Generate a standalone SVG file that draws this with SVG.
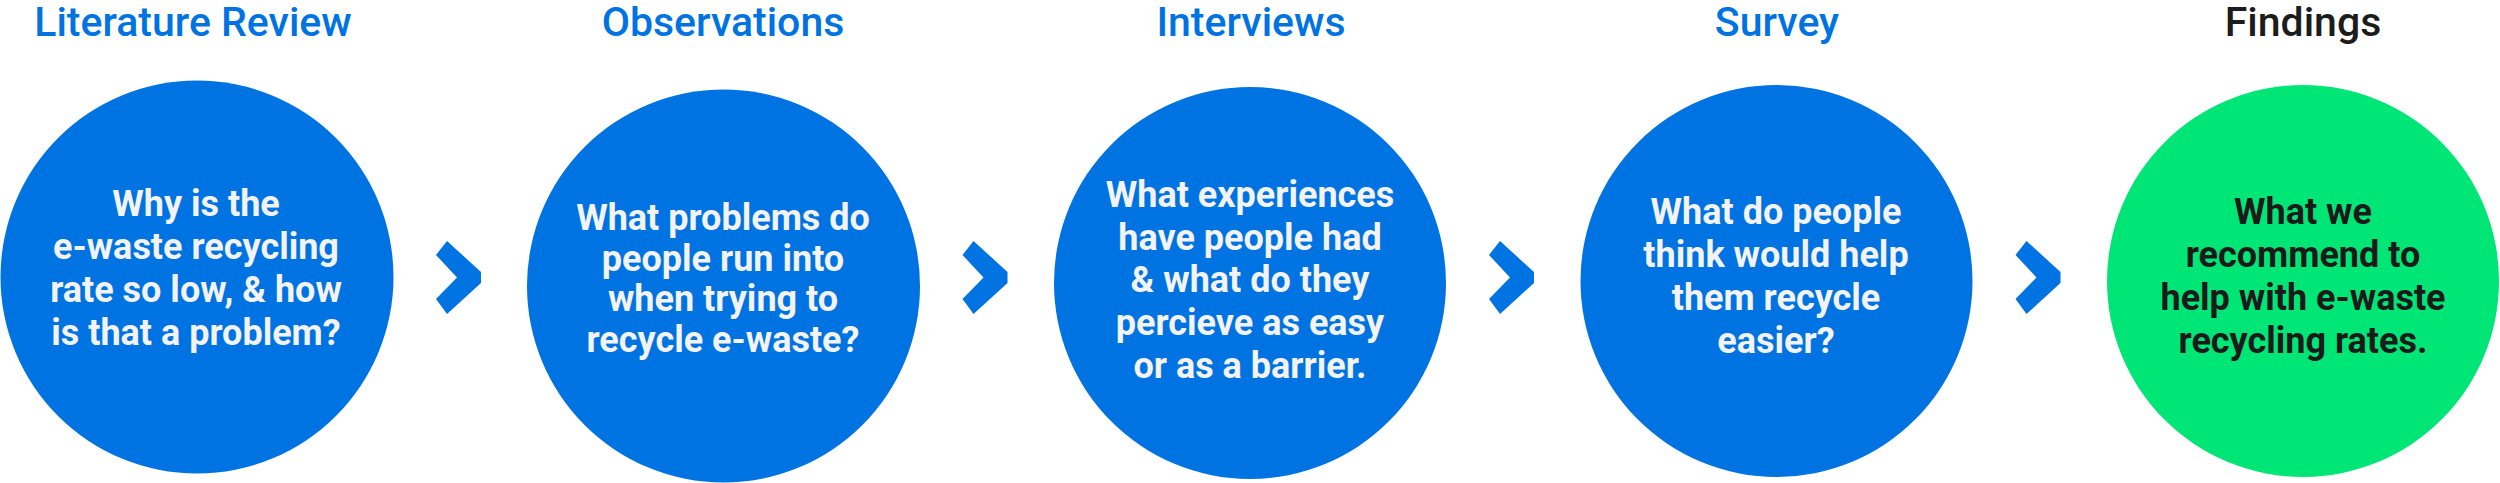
<svg xmlns="http://www.w3.org/2000/svg" xmlns:xlink="http://www.w3.org/1999/xlink" width="2500" height="483" viewBox="0 0 2500 483">
<style>
.title{font-family:Roboto,"Liberation Sans",sans-serif;font-weight:500;font-size:41px;fill:#0073E2;text-anchor:middle}
.title.dark{fill:#1c1c1c}
.q{font-family:Roboto,"Liberation Sans",sans-serif;font-weight:700;font-size:36px;fill:#F3F3F3;text-anchor:middle}
.q.dark{fill:#1a1a1a}
.blue{fill:#0073E2}
.green{fill:#00E676}
.chev{fill:#0073E2}
</style>
<defs>
<polygon id="chevron" points="436,255 447,241 481,272 481,283 447,314 436,299 457,277.5"/>
</defs>
<rect width="2500" height="483" fill="#ffffff"/>
<g id="node-literature">
<text class="title" x="193" y="36">Literature Review</text>
<circle class="blue" cx="197" cy="277" r="196.5"/>
<text class="q" x="196" y="216">Why is the</text>
<text class="q" x="196" y="259">e-waste recycling</text>
<text class="q" x="196" y="302">rate so low, &amp; how</text>
<text class="q" x="196" y="345">is that a problem?</text>
</g>
<g id="node-observations">
<text class="title" x="723" y="36">Observations</text>
<circle class="blue" cx="723.5" cy="286" r="196.5"/>
<text class="q" x="723" y="230">What problems do</text>
<text class="q" x="723" y="271">people run into</text>
<text class="q" x="723" y="311">when trying to</text>
<text class="q" x="723" y="352">recycle e-waste?</text>
</g>
<g id="node-interviews">
<text class="title" x="1251" y="36">Interviews</text>
<circle class="blue" cx="1250" cy="283" r="196"/>
<text class="q" x="1250" y="207">What experiences</text>
<text class="q" x="1250" y="250">have people had</text>
<text class="q" x="1250" y="292">&amp; what do they</text>
<text class="q" x="1250" y="335">percieve as easy</text>
<text class="q" x="1250" y="378">or as a barrier.</text>
</g>
<g id="node-survey">
<text class="title" x="1777" y="36">Survey</text>
<circle class="blue" cx="1776.5" cy="281" r="196"/>
<text class="q" x="1776" y="224">What do people</text>
<text class="q" x="1776" y="267">think would help</text>
<text class="q" x="1776" y="310">them recycle</text>
<text class="q" x="1776" y="353">easier?</text>
</g>
<g id="node-findings">
<text class="title dark" x="2303" y="36">Findings</text>
<circle class="green" cx="2303" cy="281" r="196"/>
<text class="q dark" x="2303" y="224">What we</text>
<text class="q dark" x="2303" y="267">recommend to</text>
<text class="q dark" x="2303" y="310">help with e-waste</text>
<text class="q dark" x="2303" y="353">recycling rates.</text>
</g>
<g id="connectors">
<use xlink:href="#chevron" class="chev"/>
<use xlink:href="#chevron" class="chev" transform="translate(526.5,0)"/>
<use xlink:href="#chevron" class="chev" transform="translate(1053,0)"/>
<use xlink:href="#chevron" class="chev" transform="translate(1579.5,0)"/>
</g>
</svg>
